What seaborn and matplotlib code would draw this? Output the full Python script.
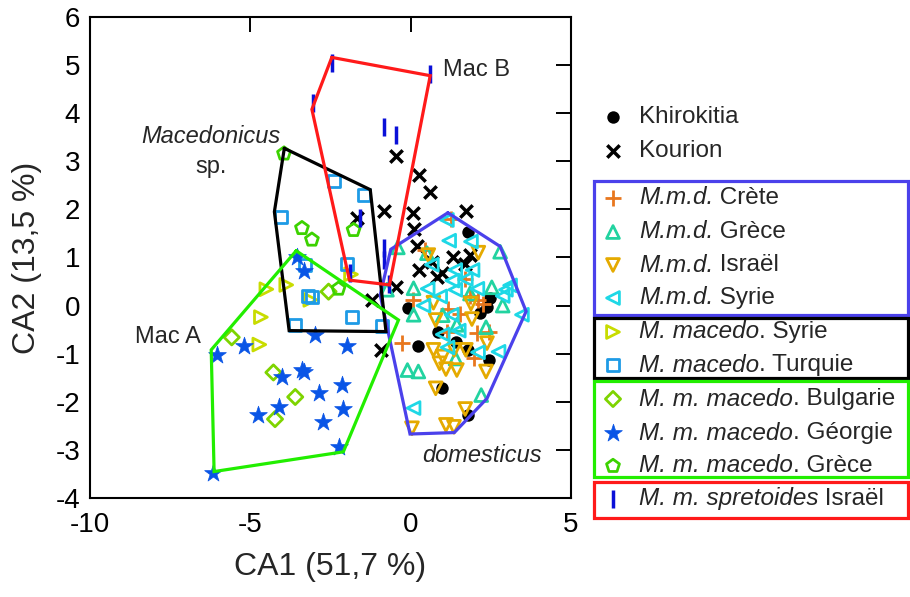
import matplotlib
matplotlib.use("Agg")
import matplotlib.pyplot as plt
import seaborn as sns
import pandas as pd
from matplotlib.patches import Rectangle

# === DATA (CA1 / CA2 scores) ===
khirokitia_x = [1.80, -0.08, 0.23, 0.84, 1.41, 1.80, 2.43, 2.46, 2.38, 0.97, 1.80, 2.17]
khirokitia_y = [1.52, -0.06, -0.85, -0.54, -0.75, -0.92, -1.14, 0.15, -0.02, -1.72, -2.27, -0.15]

kourion_x = [-0.45, 0.27, 0.61, -0.83, 0.08, 1.72, -1.68, 0.10, 0.19, 1.33, 1.86, 1.68,
             0.25, 0.82, 0.97, -0.45, -1.21, -0.93, 0.66]
kourion_y = [3.11, 2.71, 2.36, 1.97, 1.93, 1.97, 1.83, 1.60, 1.24, 1.00, 1.05, 0.87,
             0.75, 0.60, 0.68, 0.38, 0.12, -0.92, 0.91]

mmd_crete_x = [1.25, 0.45, 0.08, 1.15, 1.54, 2.06, 2.25, 1.13, -0.27, 1.96, 2.43, 1.86, 1.70, 2.11]
mmd_crete_y = [1.80, 1.16, 0.12, -0.07, -0.17, -0.57, 0.03, -0.55, -0.78, -1.08, -0.55, 0.19, 0.55, 0.12]

mmd_grece_x = [-0.40, 0.51, 2.79, 0.09, 2.53, 2.87, 0.09, -0.74, 2.35, -0.10, 0.24, 1.40,
               2.20, 1.44, 1.85, 1.00]
mmd_grece_y = [1.21, 1.09, 1.12, 0.36, 0.38, 0.00, -0.19, 0.33, -0.45, -1.34, -1.37, -1.10,
               -1.86, -0.40, 0.25, -0.20]

mmd_israel_x = [2.11, 0.55, 0.71, 1.88, 0.78, 1.91, 2.38, 0.71, 1.00, 1.36, 1.72, 1.10,
                1.44, 2.35, 0.78, 1.70, 0.04, 1.10, 1.35, 0.90]
mmd_israel_y = [1.10, 1.05, 0.06, 0.04, -0.30, -0.28, -0.78, -0.92, -1.06, -0.92, -0.92, -1.32,
                -1.34, -1.37, -1.72, -2.15, -2.55, -2.48, -2.52, -1.20]

mmd_syrie_x = [1.13, 1.20, 1.88, 0.66, 1.39, 1.93, 1.30, 1.72, 0.53, 2.08, 2.97, 3.10,
               2.87, 0.40, 1.28, 1.50, 1.15, 2.10, 2.74, 3.47, 0.09, 0.92, 1.39, 1.00]
mmd_syrie_y = [1.78, 1.35, 1.33, 0.85, 0.74, 0.74, 0.52, 0.55, 0.35, 0.35, 0.33, 0.42,
               0.20, 0.00, -0.19, -0.52, -0.87, -0.97, -0.96, -0.19, -2.13, 0.19, 0.33, -0.60]

mac_syrie_x = [-4.50, -3.88, -4.67, -4.72, -3.13, -1.86]
mac_syrie_y = [0.34, 0.43, -0.24, -0.81, 0.12, 0.65]

mac_turquie_x = [-2.40, -1.45, -4.05, -1.99, -3.19, -3.08, -1.83, -3.62, -0.90, -3.29]
mac_turquie_y = [2.59, 2.30, 1.84, 0.87, 0.20, 0.17, -0.23, -0.40, -0.42, 0.85]

mmm_bulgarie_x = [-5.58, -4.28, -3.60, -4.23, -2.56]
mmm_bulgarie_y = [-0.66, -1.39, -1.90, -2.36, 0.29]

mmm_georgie_x = [-5.21, -6.04, -2.98, -1.99, -4.02, -3.32, -2.15, -2.87, -4.12, -4.75,
                 -2.11, -2.72, -2.25, -6.15, -3.32, -3.55, -3.40]
mmm_georgie_y = [-0.84, -1.02, -0.61, -0.84, -1.48, -1.39, -1.65, -1.81, -2.11, -2.27,
                 -2.15, -2.43, -2.93, -3.48, 0.72, 1.02, -1.33]

mmm_grece_x = [-3.95, -3.39, -3.08, -1.78, -2.25]
mmm_grece_y = [3.16, 1.61, 1.37, 1.57, 0.35]

spretoides_x = [-2.45, 0.61, -3.05, -0.82, -0.47, -1.57, -0.82, -0.82, -1.90, -0.67]
spretoides_y = [5.05, 4.82, 4.22, 3.72, 3.55, 1.82, 1.20, 0.95, 0.68, 0.45]

# convex hulls (vertices)
hull_domesticus_x = [1.16, 2.79, 3.60, 2.38, 1.36, -0.02, -0.95, -0.62]
hull_domesticus_y = [1.93, 1.23, -0.12, -1.93, -2.64, -2.67, 0.22, 1.17]
hull_macsp_x = [-3.94, -1.26, -0.77, -3.79, -4.25]
hull_macsp_y = [3.27, 2.41, -0.54, -0.52, 1.95]
hull_maca_x = [-3.57, -0.38, -2.10, -6.13, -6.22]
hull_maca_y = [1.14, -0.30, -3.04, -3.45, -0.92]
hull_macb_x = [-2.46, 0.61, -0.66, -1.91, -3.08]
hull_macb_y = [5.16, 4.78, 0.43, 0.53, 4.08]

x_ticks = [-10, -5, 0, 5]
y_ticks = [-4, -3, -2, -1, 0, 1, 2, 3, 4, 5, 6]

# === STYLE ===
sns.set_theme(style="white")
plt.rcParams["font.family"] = ["Liberation Sans", "DejaVu Sans"]
plt.rcParams["axes.unicode_minus"] = False

BLUE_HULL = "#4B41EB"
GREEN_HULL = "#22EE00"
RED_HULL = "#FF1A1A"

# (italic part, roman part), x, y, marker, color, hollow, size, linewidth
groups = [
    (("", "Khirokitia"), khirokitia_x, khirokitia_y, "o", "black", False, 80, 0),
    (("", "Kourion"), kourion_x, kourion_y, "x", "black", False, 80, 2.5),
    (("M.m.d.", " Crète"), mmd_crete_x, mmd_crete_y, "+", "#E8771E", False, 130, 2),
    (("M.m.d.", " Grèce"), mmd_grece_x, mmd_grece_y, "^", "#22D3A0", True, 85, 2),
    (("M.m.d.", " Israël"), mmd_israel_x, mmd_israel_y, "v", "#E5AA00", True, 85, 2),
    (("M.m.d.", " Syrie"), mmd_syrie_x, mmd_syrie_y, "<", "#1ED8E6", True, 85, 2),
    (("M. macedo", ". Syrie"), mac_syrie_x, mac_syrie_y, ">", "#C8DC00", True, 85, 2),
    (("M. macedo", ". Turquie"), mac_turquie_x, mac_turquie_y, "s", "#1E9BE6", True, 75, 2),
    (("M. m. macedo", ". Bulgarie"), mmm_bulgarie_x, mmm_bulgarie_y, "D", "#7ED400", True, 60, 2),
    (("M. m. macedo", ". Géorgie"), mmm_georgie_x, mmm_georgie_y, "*", "#0A55E6", False, 180, 0.5),
    (("M. m. macedo", ". Grèce"), mmm_grece_x, mmm_grece_y, "p", "#3CD200", True, 95, 2),
    (("M. m. spretoides", " Israël"), spretoides_x, spretoides_y, "|", "#0A10D8", False, 170, 2.5),
]

fig = plt.figure(figsize=(9.1, 5.97), dpi=100)
ax = fig.add_axes([90 / 910, 1 - 498 / 597, 481 / 910, 481 / 597])

for label, xs, ys, marker, color, hollow, size, lw in groups:
    df = pd.DataFrame({"CA1": xs, "CA2": ys})
    kws = dict(marker=marker, s=size, color=color, linewidth=lw, legend=False, zorder=3)
    if hollow:
        kws.update(facecolor="none", edgecolor=color)
    elif marker == "*":
        kws.update(edgecolor=color)
    sns.scatterplot(data=df, x="CA1", y="CA2", ax=ax, **kws)

for hx, hy, col in [
    (hull_domesticus_x, hull_domesticus_y, BLUE_HULL),
    (hull_macsp_x, hull_macsp_y, "black"),
    (hull_maca_x, hull_maca_y, GREEN_HULL),
    (hull_macb_x, hull_macb_y, RED_HULL),
]:
    ax.plot(hx + hx[:1], hy + hy[:1], color=col, lw=2.3, zorder=4, solid_joinstyle="miter")

ax.text(1.01, 4.90, "Mac B", fontsize=17, va="center", ha="left")
ax.text(-6.22, 3.51, "Macedonicus", fontsize=17, style="italic", va="center", ha="center")
ax.text(-6.22, 2.88, "sp.", fontsize=17, va="center", ha="center")
ax.text(-7.56, -0.65, "Mac A", fontsize=17, va="center", ha="center")
ax.text(2.23, -3.12, "domesticus", fontsize=17, style="italic", va="center", ha="center")

ax.set_xlim(-10, 5)
ax.set_ylim(-4, 6)
ax.set_xticks(x_ticks)
ax.set_yticks(y_ticks)
ax.tick_params(direction="in", length=10.5, width=1.4, labelsize=20, pad=7,
               top=True, right=True, colors="black")
ax.tick_params(axis="x", pad=10)
for sp in ax.spines.values():
    sp.set_color("black")
    sp.set_linewidth(1.5)
ax.set_xlabel("CA1 (51,7 %)", fontsize=23, labelpad=10)
ax.set_ylabel("CA2 (13,5 %)", fontsize=23, labelpad=10)

# === CUSTOM GROUPED LEGEND (figure pixel layout) ===
lax = fig.add_axes([0, 0, 1, 1], zorder=-1)
lax.set_xlim(0, 910)
lax.set_ylim(597, 0)
lax.axis("off")
renderer = fig.canvas.get_renderer()
row_y = [117, 151, 198, 232, 265, 298, 332, 365, 399, 433, 466, 499]
for ((ital, roman), xs, ys, marker, color, hollow, size, lw), yy in zip(groups, row_y):
    if hollow:
        lax.scatter([613], [yy], marker=marker, s=size, facecolor="none", edgecolor=color, linewidth=lw)
    else:
        lax.scatter([613], [yy], marker=marker, s=size, color=color, linewidth=lw)
    x0 = 639
    if ital:
        t = lax.text(x0, yy, ital, fontsize=17.5, style="italic", va="center", ha="left")
        x0 += t.get_window_extent(renderer).width
    lax.text(x0, yy, roman, fontsize=17.5, va="center", ha="left")

for y0, y1, col in [(181, 315, BLUE_HULL), (318, 378, "black"), (381, 477, GREEN_HULL), (482, 518, RED_HULL)]:
    lax.add_patch(Rectangle((594, y0), 314, y1 - y0, fill=False, edgecolor=col, lw=2.3))

fig.savefig("out.png", dpi=100)
